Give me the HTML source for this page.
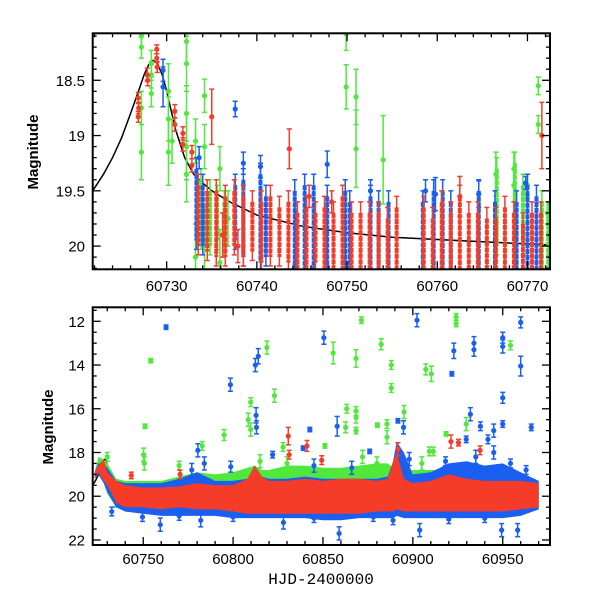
<!DOCTYPE html>
<html><head><meta charset="utf-8">
<style>
html,body{margin:0;padding:0;background:#fff;}
svg{display:block;font-family:"Liberation Sans",sans-serif;}
</style></head>
<body>
<svg id="chart" width="600" height="600" viewBox="0 0 600 600" xmlns="http://www.w3.org/2000/svg">
<defs>
<clipPath id="clipTop"><rect x="92.7" y="33.3" width="457.3" height="236"/></clipPath>
<clipPath id="clipBot"><rect x="92.7" y="307.3" width="457.3" height="237.7"/></clipPath>
</defs>
<g id="topPanel"></g>
<g id="botPanel"></g>
</svg>
<script>
// ---------- DATA ----------
const RED="#f53c28", BLUE="#1a5ff0", GREEN="#50e83c";
// fit model
const fitDays=[60721.8,60723,60724,60725,60726,60727,60727.5,60728,60728.5,60729,60729.5,60730,60731,60732,60733,60734,60735,60737,60740,60745,60750,60755,60760,60765,60770,60773];
const fitMags=[19.5,19.35,19.2,19.02,18.8,18.57,18.45,18.36,18.32,18.35,18.45,18.6,18.95,19.2,19.35,19.43,19.5,19.6,19.72,19.82,19.88,19.92,19.94,19.96,19.98,19.99];
// top panel individual points [day, mag, err]
const topRedPts=[[60726.85,18.66,0.05],[60726.9,18.75,0.05],[60726.85,18.83,0.05],[60727.85,18.45,0.06],[60727.9,18.5,0.05],[60728.9,18.22,0.04],[60728.9,18.3,0.04],[60728.95,18.38,0.05],[60730.9,18.78,0.06],[60730.9,18.9,0.06],[60731.8,18.98,0.06],[60731.8,19.08,0.06],[60732.8,19.15,0.06],[60732.8,19.27,0.06],[60735.0,18.83,0.25],[60743.6,19.12,0.18],[60771.6,19.0,0.3],[60762.5,19.55,0.18],[60748.3,19.6,0.1],[60736.2,19.9,0.2],[60737.9,20.0,0.15],[60745.8,19.55,0.1]];
const topBluePts=[[60729.6,18.41,0.1],[60729.6,18.56,0.18],[60737.6,18.76,0.07],[60747.8,19.26,0.12],[60738.5,19.25,0.1],[60740.4,19.28,0.1],[60733.6,19.2,0.1],[60752.6,19.5,0.1],[60758.7,19.5,0.1],[60759.8,19.53,0.15],[60764.6,19.53,0.12],[60769.8,19.43,0.06]];
const topGreenPts=[[60727.2,18.1,0.1],[60727.2,18.2,0.1],[60727.2,19.15,0.25],[60727.2,18.75,0.15],[60728.3,18.35,0.12],[60728.3,18.45,0.12],[60728.3,18.62,0.12],[60730.2,18.6,0.25],[60730.2,18.85,0.2],[60730.2,19.15,0.3],[60730.6,19.05,0.2],[60732.2,18.15,0.2],[60732.2,18.35,0.25],[60732.2,18.8,0.25],[60732.2,19.1,0.3],[60732.2,19.35,0.25],[60733.2,19.05,0.2],[60733.2,20.1,0.3],[60734.2,18.64,0.15],[60734.2,19.1,0.2],[60734.2,19.95,0.3],[60735.9,19.3,0.2],[60735.9,20.15,0.3],[60736.8,19.75,0.25],[60749.9,18.08,0.15],[60749.9,18.56,0.2],[60751.0,18.65,0.25],[60751.0,19.12,0.35],[60754.0,19.22,0.4],[60766.5,19.35,0.2],[60768.5,19.3,0.15],[60768.5,19.45,0.15],[60770.0,19.45,0.1],[60771.2,18.55,0.08],[60771.2,18.9,0.08],[60772.2,19.7,0.1]];
// top panel dense columns: day, bright end, faint end
const redColDays=[60733.5,60734.5,60735.5,60736.5,60737.5,60738.5,60739.5,60740.5,60741.5,60742.5,60743.5,60744.5,60745.5,60746.5,60747.5,60748.5,60749.5,60750.5,60751.5,60752.5,60753.5,60754.5,60755.5,60758.5,60759.5,60760.5,60761.5,60762.5,60763.5,60764.5,60765.5,60766.5,60767.5,60768.5,60769.5,60770.5,60771.5];
const redColLo=[19.45,19.5,19.5,19.55,19.5,19.55,19.6,19.6,19.55,19.65,19.6,19.7,19.65,19.7,19.65,19.7,19.55,19.7,19.7,19.7,19.7,19.75,19.65,19.65,19.75,19.6,19.7,19.55,19.7,19.7,19.75,19.75,19.65,19.7,19.8,19.7,19.7];
const redColHi=[20.0,20.05,20.1,20.1,20.0,20.1,20.05,20.15,20.1,20.1,20.15,20.2,20.2,20.15,20.2,20.2,20.25,20.2,20.2,20.25,20.2,20.2,20.25,20.2,20.25,20.25,20.2,20.25,20.25,20.2,20.25,20.25,20.25,20.25,20.25,20.25,20.25];
const blueColDays=[60733.3,60734,60737.6,60738.5,60740.4,60741,60744.2,60745.3,60746.3,60747.8,60749.8,60750.3,60752.6,60753.5,60754.6,60758.4,60759.6,60760.6,60761.5,60764.6,60766.4,60768.8,60770,60771];
const blueColLo=[19.3,19.45,19.45,19.4,19.35,19.55,19.5,19.45,19.45,19.55,19.5,19.6,19.55,19.6,19.6,19.6,19.5,19.5,19.6,19.5,19.6,19.6,19.45,19.55];
const blueColHi=[19.95,20.0,19.95,20.1,20.15,20.1,20.2,20.2,20.2,20.2,20.25,20.25,20.25,20.2,20.25,20.25,20.2,20.2,20.25,20.25,20.25,20.25,20.2,20.2];
const greenColDays=[60733.8,60734.8,60735.6,60736.4,60766.6,60768.6,60769.5,60771.6,60772.3];
const greenColLo=[19.4,19.5,19.55,19.6,19.3,19.25,19.45,19.6,19.7];
const greenColHi=[19.95,20.0,19.95,19.9,20.0,20.1,20.0,20.25,20.2];
// bottom panel: band envelopes
const bandDays=[60723,60725,60728,60730,60735,60740,60750,60760,60770,60780,60790,60800,60808,60812,60816,60820,60830,60840,60850,60860,60870,60880,60886,60889,60891,60895,60900,60910,60920,60930,60940,60950,60960,60970];
const redTop=[18.9,18.6,18.3,18.9,19.3,19.5,19.6,19.6,19.55,19.4,19.5,19.5,19.2,18.6,19.1,19.3,19.3,19.2,19.3,19.2,19.2,19.3,19.2,18.4,18.0,19.2,19.4,19.3,19.0,19.2,19.3,19.3,19.3,19.4];
const redBot=[19.2,18.9,19.3,19.5,20.3,20.5,20.5,20.6,20.5,20.6,20.6,20.7,20.8,20.8,20.8,20.8,20.8,20.8,20.8,20.8,20.8,20.7,20.7,20.7,20.6,20.7,20.7,20.7,20.7,20.7,20.7,20.7,20.6,20.5];
const blueTop=[18.9,18.5,18.5,18.7,19.3,19.4,19.4,19.4,19.2,18.9,19.3,19.3,19.2,18.6,19.1,19.2,19.2,19.1,19.2,19.2,19.2,19.2,19.1,18.4,17.5,18.0,19.0,18.9,18.5,18.4,18.6,18.5,18.9,19.3];
const blueBot=[19.2,19.0,19.4,19.8,20.5,20.7,20.8,20.9,20.9,20.9,20.9,21.0,21.0,21.0,21.0,21.0,21.0,21.0,21.1,21.1,21.0,21.0,21.0,21.0,20.9,21.0,21.0,21.0,21.0,21.0,21.0,21.0,20.9,20.6];
const greenTop=[18.9,18.2,18.3,18.5,19.2,19.3,19.3,19.3,19.1,18.9,19.0,18.9,18.7,18.6,18.8,18.8,18.6,18.6,18.7,18.7,18.6,18.5,18.5,18.7,18.5,18.8,18.8,18.8,18.8,18.7,18.9,19.0,19.0,19.3];
const greenBot=[19.2,19.0,19.4,19.9,20.5,20.7,20.8,20.8,20.8,20.8,20.8,20.9,20.9,20.9,20.9,20.9,20.9,20.9,20.9,20.9,20.9,21.0,21.0,21.0,20.9,20.9,21.0,21.0,21.0,20.9,20.9,20.9,20.8,20.6];
// bottom panel outliers [day, mag, err]
const botBluePts=[[60762.7,12.27,0.1],[60798.5,14.9,0.3],[60812.4,14.0,0.3],[60814,13.6,0.35],[60850.5,12.75,0.3],[60902.3,11.95,0.3],[60922.8,13.35,0.35],[60921.7,14.4,0.1],[60934,13.0,0.3],[60934,13.3,0.3],[60950,12.75,0.25],[60950,13.15,0.3],[60960,12.05,0.25],[60960,14.05,0.45],[60950,15.5,0.25],[60965.9,16.85,0.15],[60932,16.25,0.3],[60950,16.7,0.15],[60857.9,16.8,0.45],[60812.8,16.3,0.35],[60813,16.85,0.3],[60891.7,16.55,0.1],[60894.8,16.85,0.3],[60937.6,16.8,0.2],[60945,17.0,0.3],[60941.8,17.4,0.2],[60929.7,17.4,0.15],[60842.7,16.95,0.1],[60780.4,17.9,0.3],[60918.2,18.4,0.2],[60798.7,18.65,0.25],[60954.3,18.5,0.2],[60903.8,21.55,0.3],[60958.3,21.55,0.3],[60949.4,21.55,0.3],[60759.5,21.3,0.3],[60859,21.7,0.3],[60749.6,20.95,0.2],[60782,21.1,0.3],[60889,21.1,0.2],[60732.5,20.7,0.2],[60828,21.2,0.3],[60822,18.1,0.15],[60839,17.8,0.1],[60876,17.95,0.1],[60784,18.5,0.3],[60777,18.8,0.3],[60845,18.6,0.3],[60866,18.7,0.3],[60898,18.3,0.3],[60935,18.2,0.3],[60945,18.0,0.3],[60963,18.8,0.2],[60770,20.9,0.2],[60800,20.95,0.2],[60845,21.0,0.2],[60878,20.95,0.2],[60920,21.05,0.2],[60940,21.0,0.2]];
const botGreenPts=[[60754.2,13.8,0.1],[60751,16.8,0.1],[60818.8,13.2,0.3],[60823,15.4,0.3],[60809.8,15.7,0.2],[60808.4,16.5,0.3],[60809.8,16.95,0.3],[60795,17.2,0.25],[60782.8,17.7,0.2],[60855.7,13.45,0.5],[60871.4,11.95,0.15],[60868.4,13.7,0.4],[60882.4,13.05,0.25],[60888,14.0,0.2],[60888,15.05,0.2],[60863.2,16.0,0.2],[60868.4,16.4,0.25],[60868.4,16.1,0.2],[60862.6,16.85,0.25],[60868.4,17.0,0.15],[60880.3,16.75,0.1],[60885.6,16.7,0.2],[60885.6,17.3,0.3],[60895.1,16.15,0.3],[60907.2,14.2,0.25],[60910.3,14.4,0.35],[60924.1,11.8,0.15],[60924.1,12.1,0.15],[60954.3,13.1,0.2],[60918.5,17.15,0.1],[60929.7,16.7,0.3],[60750.2,18.1,0.3],[60750.6,18.5,0.3],[60851.1,17.7,0.1],[60827.8,17.75,0.2],[60909.2,17.95,0.2],[60911.4,17.95,0.2],[60734.4,20.1,0.4],[60830,18.5,0.3],[60905,18.5,0.3],[60770,18.6,0.2],[60815,18.4,0.3],[60872,18.2,0.3],[60880,18.5,0.3],[60730,18.2,0.2]];
const botRedPts=[[60830.7,17.25,0.4],[60831.2,18.1,0.2],[60841.1,17.7,0.25],[60921.2,17.5,0.3],[60925.4,17.55,0.15],[60937.4,17.9,0.2],[60849.3,18.35,0.2],[60891.7,17.85,0.3],[60743.4,19.05,0.15],[60770.5,19.0,0.2]];
// ticks
const topXTicks=[60730,60740,60750,60760,60770];
const topYTicks=[18.5,19,19.5,20];
const topYLabels=["18.5","19","19.5","20"];
const botXTicks=[60750,60800,60850,60900,60950];
const botYTicks=[12,14,16,18,20,22];

// ---------- AXES ----------
const NS="http://www.w3.org/2000/svg";
function mk(tag,attrs,parent){const e=document.createElementNS(NS,tag);for(const k in attrs)e.setAttribute(k,attrs[k]);parent.appendChild(e);return e;}
const L=92.7,R=550;
const topP={x0:60721.8,x1:60772.5,y0:18.075,y1:20.21,T:33.3,B:269.3};
const botP={x0:60721.9,x1:60976.3,y0:11.36,y1:22.23,T:307.3,B:545};
function sx(p,v){return L+(v-p.x0)/(p.x1-p.x0)*(R-L);}
function sy(p,v){return p.T+(v-p.y0)/(p.y1-p.y0)*(p.B-p.T);}

function drawPoint(g,p,d,m,e,col,r){
  const x=sx(p,d),y1=sy(p,m-e),y2=sy(p,m+e),y=sy(p,m);
  const grp=mk('g',{},g);
  
  
  mk('line',{x1:x,x2:x,y1:y1,y2:y2,stroke:col,'stroke-width':1.5},grp);
  mk('line',{x1:x-2.5,x2:x+2.5,y1:y1,y2:y1,stroke:col,'stroke-width':1.5},grp);
  mk('line',{x1:x-2.5,x2:x+2.5,y1:y2,y2:y2,stroke:col,'stroke-width':1.5},grp);
  mk('circle',{cx:x,cy:y,r:r,fill:col},grp);
}
function drawCol(g,p,d,lo,hi,col){
  const x=sx(p,d),ya=sy(p,lo),yb=sy(p,hi),ea=sy(p,lo-0.1),eb=sy(p,hi+0.08);
  const grp=mk('g',{},g);
  
  
  mk('line',{x1:x,x2:x,y1:ea,y2:eb,stroke:col,'stroke-width':1.5},grp);
  mk('line',{x1:x-2.5,x2:x+2.5,y1:ea,y2:ea,stroke:col,'stroke-width':1.5},grp);
  mk('line',{x1:x-2.5,x2:x+2.5,y1:eb,y2:eb,stroke:col,'stroke-width':1.5},grp);
  mk('line',{x1:x,x2:x,y1:ya,y2:yb,stroke:col,'stroke-width':4,'stroke-dasharray':'5 0.8'},grp);
}
function drawBand(g,p,top,bot,col){
  let pts=[];
  for(let i=0;i<bandDays.length;i++)pts.push(sx(p,bandDays[i]).toFixed(1)+','+sy(p,top[i]).toFixed(1));
  for(let i=bandDays.length-1;i>=0;i--)pts.push(sx(p,bandDays[i]).toFixed(1)+','+sy(p,bot[i]).toFixed(1));
  const e=mk('polygon',{points:pts.join(' '),fill:col},g);
  
  
}
function drawFit(g,p){
  let d='';
  for(let i=0;i<fitDays.length;i++)d+=(i?'L':'M')+sx(p,fitDays[i]).toFixed(1)+','+sy(p,fitMags[i]).toFixed(1);
  const e=mk('path',{d:d,fill:'none',stroke:'#000','stroke-width':1.5},g);
  
  
}
function frame(g,p,xMajor,xMinor,yMajor,yMinor,xt,xl,yt,yl,xlabY){
  const W=R-L,H=p.B-p.T;
  const f=mk('rect',{x:L,y:p.T,width:W,height:H,fill:'none',stroke:'#000','stroke-width':2},g);
  
  
  let v=Math.ceil(p.x0/xMinor)*xMinor;
  for(;v<=p.x1;v+=xMinor){const x=sx(p,v);const maj=Math.abs(v/xMajor-Math.round(v/xMajor))<1e-6;const len=maj?8:4;
    mk('line',{x1:x,x2:x,y1:p.B,y2:p.B-len,stroke:'#000','stroke-width':1.3},g);
    mk('line',{x1:x,x2:x,y1:p.T,y2:p.T+len,stroke:'#000','stroke-width':1.3},g);}
  v=Math.ceil(p.y0/yMinor-1e-6)*yMinor;
  for(;v<=p.y1+1e-9;v+=yMinor){const y=sy(p,v);const maj=Math.abs(v/yMajor-Math.round(v/yMajor))<1e-6;const len=maj?8:4;
    mk('line',{x1:L,x2:L+len,y1:y,y2:y,stroke:'#000','stroke-width':1.3},g);
    mk('line',{x1:R,x2:R-len,y1:y,y2:y,stroke:'#000','stroke-width':1.3},g);}
  xt.forEach((t,i)=>{const e=mk('text',{x:sx(p,t),y:xlabY,'text-anchor':'middle','font-size':15},g);e.textContent=xl[i];
    
    });
  yt.forEach((t,i)=>{const e=mk('text',{x:85,y:sy(p,t)+5.5,'text-anchor':'end','font-size':15},g);e.textContent=yl[i];
    
    });
}

// ---------- TOP PANEL ----------
const tg=document.getElementById('topPanel');
const tdata=mk('g',{'clip-path':'url(#clipTop)'},tg);


drawFit(tdata,topP);
greenColDays.forEach((d,i)=>drawCol(tdata,topP,d,greenColLo[i],greenColHi[i],GREEN));
topGreenPts.forEach(q=>drawPoint(tdata,topP,q[0],q[1],q[2],GREEN,2.6));
blueColDays.forEach((d,i)=>drawCol(tdata,topP,d,blueColLo[i],blueColHi[i],BLUE));
topBluePts.forEach(q=>drawPoint(tdata,topP,q[0],q[1],q[2],BLUE,2.6));
redColDays.forEach((d,i)=>drawCol(tdata,topP,d,redColLo[i],redColHi[i],RED));
topRedPts.forEach(q=>drawPoint(tdata,topP,q[0],q[1],q[2],RED,2.6));
frame(tg,topP,10,2,0.5,0.1,topXTicks,topXTicks.map(String),topYTicks,topYLabels,291);
const ty=mk('text',{x:0,y:0,transform:'translate(38,152) rotate(-90)','text-anchor':'middle','font-size':15,'font-weight':'bold'},tg);
ty.textContent='Magnitude';



// ---------- BOTTOM PANEL ----------
const bg=document.getElementById('botPanel');
const bdata=mk('g',{'clip-path':'url(#clipBot)'},bg);


drawFit(bdata,botP);
drawBand(bdata,botP,greenTop,greenBot,GREEN);
botGreenPts.forEach(q=>drawPoint(bdata,botP,q[0],q[1],q[2],GREEN,2.6));
drawBand(bdata,botP,blueTop,blueBot,BLUE);
botBluePts.forEach(q=>drawPoint(bdata,botP,q[0],q[1],q[2],BLUE,2.6));
drawBand(bdata,botP,redTop,redBot,RED);
botRedPts.forEach(q=>drawPoint(bdata,botP,q[0],q[1],q[2],RED,2.6));
frame(bg,botP,50,10,2,0.5,botXTicks,botXTicks.map(String),botYTicks,botYTicks.map(String),564);
const by=mk('text',{x:0,y:0,transform:'translate(53,427) rotate(-90)','text-anchor':'middle','font-size':15,'font-weight':'bold'},bg);
by.textContent='Magnitude';


const bx=mk('text',{x:321,y:584,'text-anchor':'middle','font-size':16,'font-family':'Liberation Mono, monospace'},bg);
bx.textContent='HJD-2400000';


</script>
</body></html>
